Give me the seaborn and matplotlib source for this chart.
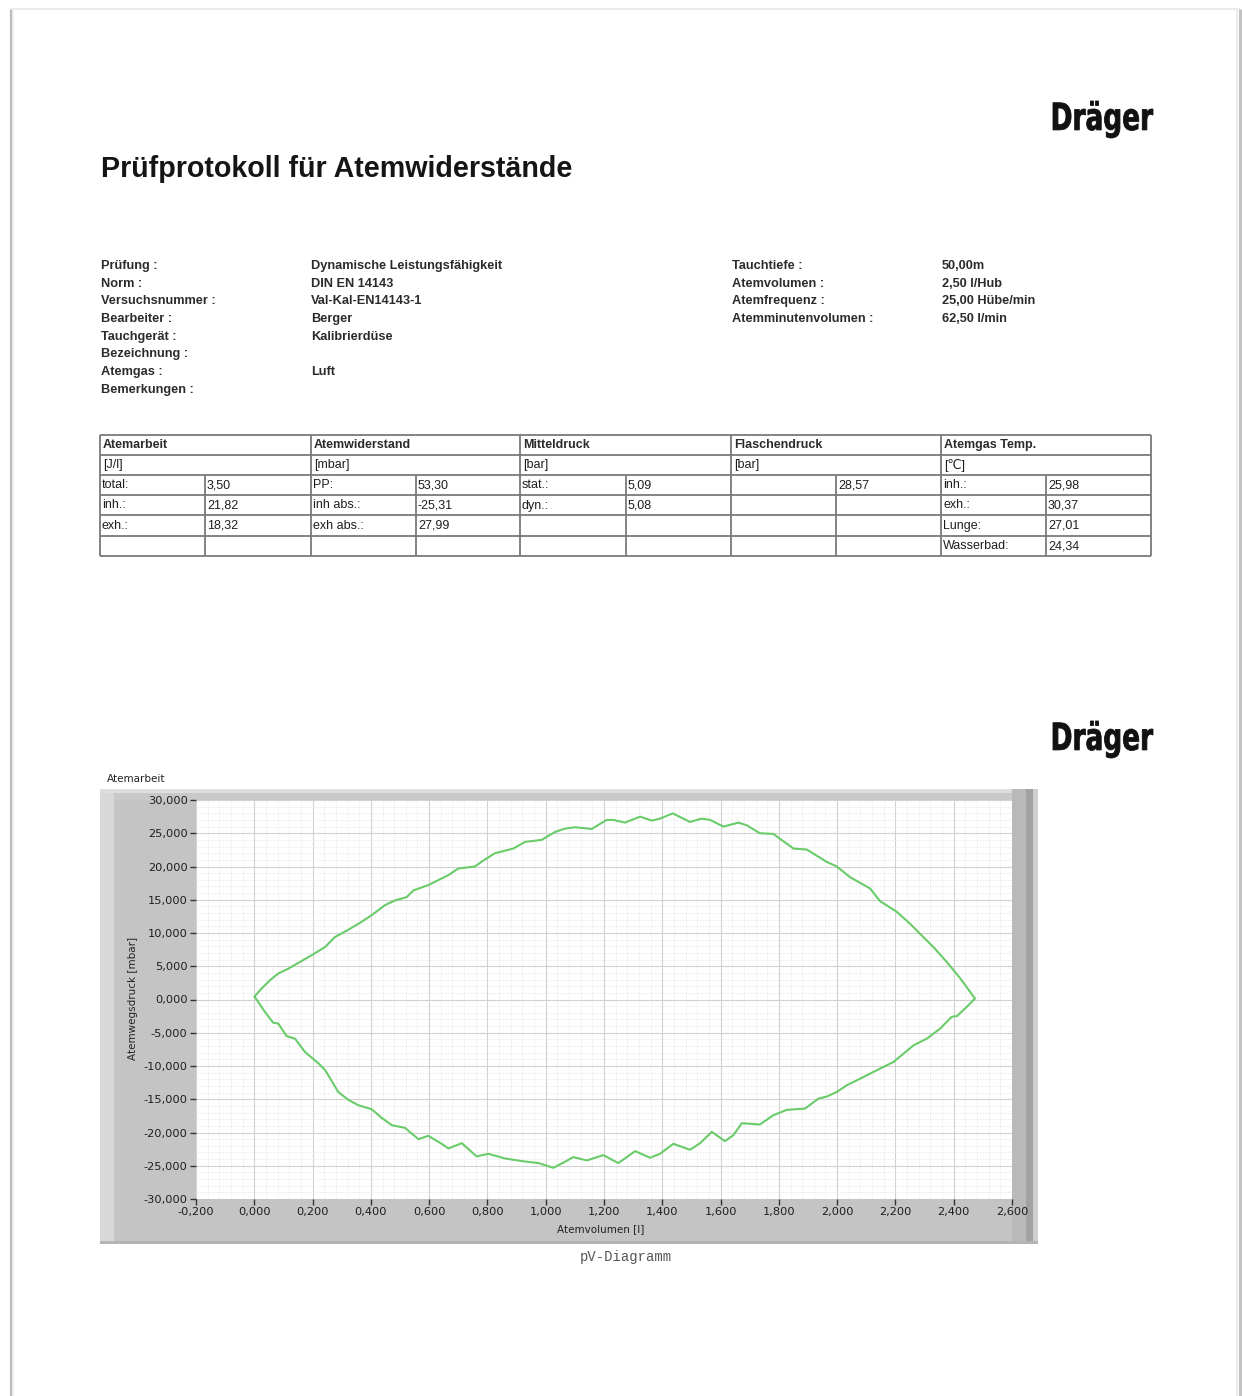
import numpy as np
import pandas as pd
import matplotlib
matplotlib.use("Agg")
import matplotlib.pyplot as plt
import seaborn as sns
from matplotlib.patches import Rectangle, PathPatch
from matplotlib.textpath import TextPath
from matplotlib.font_manager import FontProperties
from matplotlib.transforms import Affine2D
from matplotlib.ticker import MultipleLocator, FuncFormatter

# ---------------------------------------------------------------- data
# pV loop: exhalation branch (volume rising), then inhalation branch back
vol_exh = [0.000, 0.025, 0.054, 0.082, 0.117, 0.151, 0.197, 0.243, 0.277, 0.323,
           0.369, 0.403, 0.449, 0.483, 0.523, 0.546, 0.597, 0.666, 0.700, 0.757,
           0.786, 0.826, 0.889, 0.929, 0.986, 1.032, 1.066, 1.101, 1.158, 1.209,
           1.232, 1.272, 1.324, 1.364, 1.392, 1.436, 1.495, 1.535, 1.564, 1.610,
           1.661, 1.690, 1.735, 1.781, 1.850, 1.896, 1.964, 1.999, 2.044, 2.113,
           2.147, 2.204, 2.250, 2.284, 2.330, 2.376, 2.422, 2.473]
p_exh = [0.4, 1.65, 2.9, 3.9, 4.65, 5.5, 6.66, 7.9, 9.4, 10.5,
         11.7, 12.7, 14.2, 14.9, 15.4, 16.4, 17.2, 18.7, 19.7, 20.0,
         20.9, 22.0, 22.7, 23.7, 24.0, 25.2, 25.7, 25.9, 25.65, 27.0,
         27.0, 26.6, 27.5, 26.9, 27.2, 27.99, 26.7, 27.2, 27.0, 26.0,
         26.6, 26.2, 25.0, 24.9, 22.7, 22.55, 20.7, 20.0, 18.4, 16.7,
         14.8, 13.2, 11.4, 9.9, 7.9, 5.65, 3.2, 0.15]

vol_inh = [2.445, 2.411, 2.393, 2.353, 2.307, 2.262, 2.193, 2.124, 2.079, 2.033,
           1.999, 1.964, 1.936, 1.890, 1.827, 1.781, 1.735, 1.673, 1.644, 1.615,
           1.570, 1.530, 1.495, 1.438, 1.392, 1.358, 1.307, 1.249, 1.198, 1.141,
           1.095, 1.066, 1.026, 0.975, 0.918, 0.860, 0.803, 0.763, 0.712, 0.666,
           0.643, 0.597, 0.563, 0.517, 0.472, 0.437, 0.403, 0.357, 0.323, 0.288,
           0.243, 0.220, 0.174, 0.140, 0.111, 0.082, 0.065, 0.037, 0.003]
p_inh = [-1.1, -2.5, -2.6, -4.4, -5.9, -6.9, -9.4, -10.9, -11.9, -12.9,
         -13.9, -14.6, -14.9, -16.4, -16.6, -17.4, -18.8, -18.6, -20.4, -21.3,
         -19.9, -21.6, -22.6, -21.7, -23.2, -23.8, -22.8, -24.6, -23.4, -24.2,
         -23.7, -24.4, -25.31, -24.6, -24.3, -23.9, -23.2, -23.6, -21.6, -22.4,
         -21.7, -20.5, -21.0, -19.3, -18.9, -17.8, -16.5, -15.9, -15.1, -13.9,
         -10.6, -9.6, -7.9, -5.9, -5.5, -3.6, -3.5, -1.9, 0.3]

x_ticks = [-0.2, 0.0, 0.2, 0.4, 0.6, 0.8, 1.0, 1.2, 1.4, 1.6, 1.8, 2.0, 2.2, 2.4, 2.6]
y_ticks = [-30, -25, -20, -15, -10, -5, 0, 5, 10, 15, 20, 25, 30]

title = "Prüfprotokoll für Atemwiderstände"
info_left_labels = ["Prüfung :", "Norm :", "Versuchsnummer :", "Bearbeiter :",
                    "Tauchgerät :", "Bezeichnung :", "Atemgas :", "Bemerkungen :"]
info_left_values = ["Dynamische Leistungsfähigkeit", "DIN EN 14143", "Val-Kal-EN14143-1",
                    "Berger", "Kalibrierdüse", "", "Luft", ""]
info_right_labels = ["Tauchtiefe :", "Atemvolumen :", "Atemfrequenz :", "Atemminutenvolumen :"]
info_right_values = ["50,00m", "2,50 l/Hub", "25,00 Hübe/min", "62,50 l/min"]

table_groups = ["Atemarbeit", "Atemwiderstand", "Mitteldruck", "Flaschendruck", "Atemgas Temp."]
table_units = ["[J/l]", "[mbar]", "[bar]", "[bar]", "[\u2103]"]
table_rows = [
    ["total:", "3,50", "PP:", "53,30", "stat.:", "5,09", "", "28,57", "inh.:", "25,98"],
    ["inh.:", "21,82", "inh abs.:", "-25,31", "dyn.:", "5,08", "", "", "exh.:", "30,37"],
    ["exh.:", "18,32", "exh abs.:", "27,99", "", "", "", "", "Lunge:", "27,01"],
    ["", "", "", "", "", "", "", "", "Wasserbad:", "24,34"],
]

# ---------------------------------------------------------------- page
W, H = 1242, 1396
sns.set_style("white")
plt.rcParams['font.family'] = ['Liberation Sans', 'DejaVu Sans']

fig = plt.figure(figsize=(W / 100, H / 100), dpi=100)
fig.patch.set_facecolor('white')
page = fig.add_axes([0, 0, 1, 1], zorder=0)
page.set_xlim(0, W)
page.set_ylim(H, 0)
page.axis('off')

# sheet edges with a soft shadow
page.plot([11, 11], [9, H], color='#bcbcbc', lw=1.6, solid_capstyle='butt')
page.plot([13, 13], [9, H], color='#ececec', lw=1.2, solid_capstyle='butt')
page.plot([11, 1239], [8.5, 8.5], color='#e6e6e6', lw=1.2)
page.plot([1239.5, 1239.5], [9, H], color='#c2c2c2', lw=2.2, solid_capstyle='butt')
page.plot([1237, 1237], [9, H], color='#ececec', lw=1.4, solid_capstyle='butt')

TXT = '#2b2b2b'

# brand mark, fitted into a box
def brand(x0, x1, y0, y1):
    tp = TextPath((0, 0), "Dräger", size=100,
                  prop=FontProperties(family='DejaVu Sans', weight='bold'))
    ext = tp.get_extents()
    sx = (x1 - x0) / ext.width
    sy = (y1 - y0) / ext.height
    tr = Affine2D().translate(-ext.x0, -ext.y1).scale(sx, -sy).translate(x0, y0)
    page.add_patch(PathPatch(tr.transform_path(tp), facecolor='#111111',
                             edgecolor='#111111', lw=0.6))

brand(1053, 1153, 101, 138)
brand(1053, 1153, 721, 758)

page.text(101, 169, title, fontsize=20.6, fontweight='bold', color='#151515',
          va='center', ha='left')

row_y = [266, 283.7, 301.4, 319.1, 336.8, 354.5, 372.2, 389.9]
for i, (lab, val) in enumerate(zip(info_left_labels, info_left_values)):
    page.text(101, row_y[i], lab, fontsize=9.2, fontweight='bold', color=TXT, va='center')
    page.text(311, row_y[i], val, fontsize=9.2, fontweight='bold', color=TXT, va='center')
for i, (lab, val) in enumerate(zip(info_right_labels, info_right_values)):
    page.text(732, row_y[i], lab, fontsize=9.2, fontweight='bold', color=TXT, va='center')
    page.text(942, row_y[i], val, fontsize=9.2, fontweight='bold', color=TXT, va='center')

# results table
cols = [100, 205, 311, 416, 520, 626, 731, 836, 941, 1046, 1151]
rows = [435, 454.5, 474.5, 495, 515, 535.5, 556]
LC = '#7a7a7a'
for y in rows:
    page.plot([cols[0], cols[-1]], [y, y], color=LC, lw=1.3, solid_capstyle='butt')
for j, x in enumerate(cols):
    top = rows[0] if j % 2 == 0 else rows[2]
    page.plot([x, x], [top, rows[-1]], color=LC, lw=1.3, solid_capstyle='butt')
for g in range(5):
    xl = cols[2 * g] + 3
    page.text(xl, (rows[0] + rows[1]) / 2 + 0.5, table_groups[g], fontsize=9,
              fontweight='bold', color=TXT, va='center')
    page.text(xl, (rows[1] + rows[2]) / 2 + 0.5, table_units[g], fontsize=9,
              color='#1e1e1e', va='center')
for r, cells in enumerate(table_rows):
    yc = (rows[r + 2] + rows[r + 3]) / 2 + 0.5
    for c, s in enumerate(cells):
        if s:
            page.text(cols[c] + 2, yc, s, fontsize=9, color='#1e1e1e', va='center')

# chart panel frame
page.add_patch(Rectangle((100, 789), 938, 455, color='#c4c4c4', lw=0))
page.add_patch(Rectangle((100, 789), 14, 455, color='#d8d8d8', lw=0))
page.add_patch(Rectangle((100, 789), 938, 4, color='#dedede', lw=0))
page.add_patch(Rectangle((114, 793), 898, 7, color='#c9c9c9', lw=0))
page.add_patch(Rectangle((1012, 789), 26, 455, color='#b9b9b9', lw=0))
page.add_patch(Rectangle((1026, 789), 7, 455, color='#a2a2a2', lw=0))
page.add_patch(Rectangle((1033, 789), 5, 455, color='#cfcfcf', lw=0))
page.add_patch(Rectangle((100, 1241), 938, 3, color='#b4b4b4', lw=0))

CH = ['DejaVu Sans']
page.text(107, 779, "Atemarbeit", fontsize=7.5, family=CH, color='#222', va='center')
page.text(133, 998, "Atemwegsdruck [mbar]", fontsize=7.5, family=CH, color='#222',
          rotation=90, va='center', ha='center')
page.text(601, 1229, "Atemvolumen [l]", fontsize=7.5, family=CH, color='#222',
          va='center', ha='center')
page.text(626, 1257, "pV-Diagramm", fontsize=10, family=['Liberation Mono'],
          color='#555555', va='center', ha='center')

# ---------------------------------------------------------------- pV chart
ax = fig.add_axes([196 / W, 1 - 1199 / H, 816 / W, 399 / H], zorder=2)
ax.set_facecolor('white')

loop = pd.DataFrame({
    "Atemvolumen": vol_exh + vol_inh,
    "Atemwegsdruck": p_exh + p_inh,
})
sns.lineplot(data=loop, x="Atemvolumen", y="Atemwegsdruck", sort=False,
             estimator=None, color='#6acb6a', lw=1.5, ax=ax,
             solid_joinstyle='round')

ax.set_xlim(x_ticks[0], x_ticks[-1])
ax.set_ylim(y_ticks[0], y_ticks[-1])
ax.set_xticks(x_ticks)
ax.set_yticks(y_ticks)
ax.xaxis.set_minor_locator(MultipleLocator(0.04))
ax.yaxis.set_minor_locator(MultipleLocator(1))

def de_fmt(v, pos=None):
    if abs(v) < 1e-9:
        v = 0.0
    return f"{v:.3f}".replace('.', ',')

ax.xaxis.set_major_formatter(FuncFormatter(de_fmt))
ax.yaxis.set_major_formatter(FuncFormatter(de_fmt))
ax.grid(which='major', color='#d2d2d2', lw=0.8)
ax.grid(which='minor', color='#e6e6e6', lw=0.6, ls=(0, (1, 1)))
ax.set_axisbelow(True)
for s in ax.spines.values():
    s.set_visible(False)
ax.tick_params(which='major', direction='out', length=4, width=1, color='#333333',
               labelsize=8.2, labelcolor='#1e1e1e', pad=2,
               bottom=True, left=True)
ax.tick_params(which='minor', length=0)
for lab in ax.get_xticklabels() + ax.get_yticklabels():
    lab.set_family(CH)
ax.set_xlabel("")
ax.set_ylabel("")

fig.savefig("out.png", dpi=100, facecolor='white')
